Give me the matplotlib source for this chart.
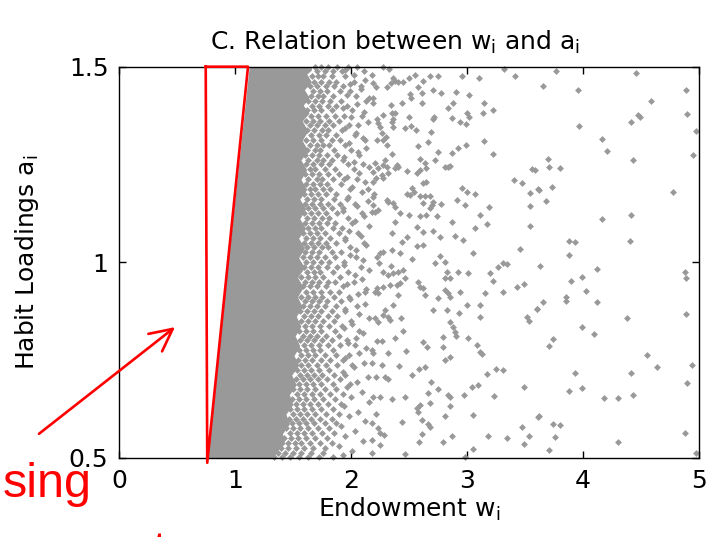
import numpy as np
import matplotlib.pyplot as plt

plt.rcParams['font.family'] = ['DejaVu Sans']
plt.rcParams['mathtext.fontset'] = 'custom'
plt.rcParams['mathtext.rm'] = 'DejaVu Sans'

gray = '#999999'
red = '#ff0000'

# outline of the solid core of the cloud (endowment, habit loading)
core_w = [1.127, 1.66, 1.66, 1.62, 1.66, 1.60, 1.64, 1.59, 1.64, 1.58, 1.63, 1.58, 1.63,
          1.57, 1.62, 1.57, 1.62, 1.56, 1.61, 1.56, 1.61, 1.55, 1.60, 1.55, 1.60, 1.54,
          1.59, 1.54, 1.58, 1.53, 1.57, 1.52, 1.56, 1.51, 1.55, 1.49, 1.53, 1.47, 1.50,
          1.44, 1.47, 1.41, 1.43, 1.36, 1.33, 0.757]
core_a = [1.508, 1.508, 1.49, 1.48, 1.46, 1.44, 1.42, 1.40, 1.38, 1.36, 1.335, 1.31, 1.285,
          1.26, 1.235, 1.21, 1.185, 1.16, 1.135, 1.11, 1.085, 1.06, 1.035, 1.01, 0.985, 0.96,
          0.935, 0.91, 0.885, 0.86, 0.835, 0.81, 0.785, 0.76, 0.735, 0.71, 0.685, 0.66, 0.635,
          0.61, 0.585, 0.56, 0.535, 0.515, 0.497, 0.497]

# fringe of the cloud: habit loading of each row and the endowments in it
fringe_a = [1.500, 1.488, 1.475, 1.462, 1.450, 1.438, 1.425, 1.412, 1.400, 1.388,
            1.375, 1.362, 1.350, 1.338, 1.325, 1.312, 1.300, 1.288, 1.275, 1.262,
            1.250, 1.238, 1.225, 1.212, 1.200, 1.188, 1.175, 1.162, 1.150, 1.138,
            1.125, 1.112, 1.100, 1.088, 1.075, 1.062, 1.050, 1.038, 1.025, 1.012,
            1.000, 0.988, 0.975, 0.962, 0.950, 0.938, 0.925, 0.912, 0.900, 0.888,
            0.875, 0.862, 0.850, 0.838, 0.825, 0.812, 0.800, 0.788, 0.775, 0.762,
            0.750, 0.738, 0.725, 0.712, 0.700, 0.688, 0.675, 0.662, 0.650, 0.638,
            0.625, 0.612, 0.600, 0.588, 0.575, 0.562, 0.550, 0.538, 0.525, 0.512, 0.502]
fringe_w = [
    [1.69, 1.74, 1.80, 1.88, 1.97, 2.05],
    [1.70, 1.77, 1.84, 1.92, 2.11],
    [1.66, 1.71, 1.76, 1.83, 1.95],
    [1.68, 1.74, 1.81, 1.87, 2.02],
    [1.64, 1.70, 1.78, 1.85, 1.93, 2.08],
    [1.67, 1.73, 1.79, 1.90, 1.99],
    [1.65, 1.71, 1.76, 1.84, 2.04],
    [1.63, 1.69, 1.75, 1.82, 1.91, 2.13],
    [1.66, 1.72, 1.80, 1.87, 1.96],
    [1.62, 1.68, 1.74, 1.83, 2.01],
    [1.65, 1.71, 1.78, 1.86, 1.94, 2.09],
    [1.61, 1.67, 1.73, 1.81, 1.89],
    [1.64, 1.70, 1.77, 1.84, 1.98, 2.06],
    [1.62, 1.68, 1.75, 1.80, 1.92],
    [1.65, 1.72, 1.78, 1.87, 2.03],
    [1.61, 1.67, 1.74, 1.83, 1.90, 2.12],
    [1.64, 1.70, 1.76, 1.81, 1.95],
    [1.62, 1.69, 1.73, 1.85, 2.00],
    [1.60, 1.66, 1.72, 1.79, 1.88, 2.07],
    [1.63, 1.70, 1.76, 1.83, 1.93],
    [1.61, 1.67, 1.74, 1.81, 1.97, 2.10],
    [1.64, 1.69, 1.77, 1.86, 2.02],
    [1.60, 1.66, 1.72, 1.80, 1.89],
    [1.63, 1.70, 1.75, 1.84, 1.94, 2.05],
    [1.61, 1.67, 1.73, 1.79, 1.91],
    [1.64, 1.69, 1.76, 1.82, 1.99, 2.14],
    [1.59, 1.65, 1.71, 1.78, 1.87],
    [1.62, 1.68, 1.74, 1.85, 1.96],
    [1.60, 1.66, 1.73, 1.80, 1.90, 2.03],
    [1.63, 1.69, 1.76, 1.83, 1.93],
    [1.59, 1.65, 1.71, 1.78, 1.88, 2.09],
    [1.62, 1.68, 1.75, 1.81, 1.97],
    [1.60, 1.66, 1.72, 1.79, 1.86, 2.01],
    [1.63, 1.69, 1.74, 1.84, 1.92],
    [1.58, 1.64, 1.70, 1.77, 1.89, 2.06],
    [1.61, 1.67, 1.73, 1.82, 1.95],
    [1.59, 1.65, 1.71, 1.78, 1.87, 2.11],
    [1.62, 1.68, 1.75, 1.80, 1.99],
    [1.60, 1.66, 1.72, 1.83, 1.91],
    [1.58, 1.64, 1.70, 1.77, 1.86, 2.04],
    [1.61, 1.67, 1.74, 1.81, 1.94],
    [1.59, 1.65, 1.71, 1.79, 1.88, 2.08],
    [1.62, 1.68, 1.73, 1.84, 1.97],
    [1.57, 1.63, 1.69, 1.76, 1.90],
    [1.60, 1.66, 1.72, 1.80, 1.86, 2.02],
    [1.58, 1.64, 1.70, 1.78, 1.93],
    [1.61, 1.67, 1.74, 1.82, 1.89, 2.12],
    [1.57, 1.63, 1.69, 1.75, 1.85, 1.98],
    [1.60, 1.66, 1.72, 1.79, 1.91],
    [1.58, 1.64, 1.70, 1.77, 1.87, 2.05],
    [1.56, 1.62, 1.68, 1.74, 1.83, 1.95],
    [1.59, 1.65, 1.71, 1.80, 1.88],
    [1.57, 1.63, 1.69, 1.76, 1.85, 2.00],
    [1.60, 1.66, 1.73, 1.81, 1.92],
    [1.55, 1.61, 1.67, 1.74, 1.86, 2.07],
    [1.58, 1.64, 1.70, 1.78, 1.89],
    [1.56, 1.62, 1.68, 1.75, 1.83, 1.96],
    [1.59, 1.65, 1.72, 1.80, 1.90, 2.03],
    [1.55, 1.61, 1.67, 1.73, 1.84],
    [1.57, 1.63, 1.69, 1.77, 1.87, 1.98],
    [1.54, 1.60, 1.66, 1.74, 1.82, 1.93],
    [1.57, 1.63, 1.70, 1.78, 1.88, 2.01],
    [1.53, 1.59, 1.65, 1.72, 1.81],
    [1.56, 1.62, 1.68, 1.75, 1.85, 1.95],
    [1.52, 1.58, 1.64, 1.71, 1.79, 1.90],
    [1.55, 1.61, 1.67, 1.74, 1.84, 1.99],
    [1.50, 1.56, 1.62, 1.69, 1.77, 1.87],
    [1.53, 1.59, 1.66, 1.73, 1.82, 1.93],
    [1.49, 1.55, 1.61, 1.68, 1.76, 1.86],
    [1.52, 1.58, 1.64, 1.71, 1.80, 1.91],
    [1.47, 1.53, 1.59, 1.66, 1.74, 1.84],
    [1.50, 1.56, 1.62, 1.69, 1.78, 1.89],
    [1.46, 1.52, 1.58, 1.65, 1.73, 1.83],
    [1.49, 1.55, 1.61, 1.68, 1.77, 1.87],
    [1.44, 1.50, 1.56, 1.63, 1.71, 1.81],
    [1.47, 1.53, 1.59, 1.66, 1.75, 1.85],
    [1.42, 1.48, 1.54, 1.61, 1.69, 1.79],
    [1.45, 1.51, 1.57, 1.64, 1.73, 1.83],
    [1.39, 1.45, 1.52, 1.59, 1.67, 1.77],
    [1.37, 1.43, 1.50, 1.57, 1.65, 1.76],
    [1.33, 1.40, 1.47, 1.55, 1.63, 1.72, 1.84],
]

# thinner outer edge of the fringe (endowment, habit loading)
outer_pts = [
    (1.95, 1.492), (2.02, 1.478), (2.12, 1.466), (1.99, 1.455), (2.08, 1.443),
    (1.96, 1.428), (2.15, 1.421), (2.05, 1.405), (1.93, 1.395), (2.11, 1.384),
    (2.00, 1.372), (2.14, 1.358), (1.95, 1.343), (2.04, 1.331), (2.10, 1.318),
    (1.98, 1.305), (2.13, 1.293), (2.06, 1.281), (1.94, 1.268), (2.02, 1.255),
    (2.15, 1.244), (2.07, 1.229), (1.96, 1.217), (2.12, 1.205), (2.01, 1.193),
    (2.09, 1.180), (1.97, 1.168), (2.14, 1.156), (2.05, 1.143), (1.93, 1.131),
    (2.11, 1.118), (2.03, 1.106), (2.15, 1.093), (1.98, 1.081), (2.08, 1.068),
    (1.95, 1.056), (2.13, 1.043), (2.04, 1.031), (1.99, 1.018), (2.10, 1.006),
    (1.94, 0.993), (2.15, 0.981), (2.03, 0.968), (2.09, 0.956), (1.96, 0.943),
    (2.13, 0.931), (2.06, 0.918), (1.99, 0.906), (2.12, 0.893), (1.95, 0.881),
    (2.07, 0.868), (2.15, 0.856), (2.01, 0.843), (1.94, 0.831), (2.10, 0.818),
    (2.04, 0.806), (1.97, 0.793), (2.13, 0.781), (2.07, 0.768), (1.95, 0.756),
    (2.11, 0.743), (2.02, 0.731), (1.93, 0.718), (2.14, 0.706), (2.05, 0.693),
    (1.96, 0.681), (2.09, 0.668), (2.00, 0.656), (2.15, 0.643), (1.94, 0.631),
    (2.06, 0.618), (1.98, 0.606), (2.12, 0.593), (1.91, 0.581), (2.03, 0.568),
    (1.95, 0.556), (2.10, 0.543), (1.89, 0.531), (2.01, 0.518), (1.93, 0.506),
]

# scattered households further out (endowment, habit loading)
sparse_pts = [
    (2.276, 1.500), (2.328, 1.493), (2.176, 1.479), (2.190, 1.458), (2.213, 1.449),
    (2.357, 1.470), (2.377, 1.464), (2.406, 1.462), (2.449, 1.462), (2.340, 1.458),
    (2.311, 1.449), (2.498, 1.470), (2.550, 1.479), (2.621, 1.464), (2.679, 1.476),
    (2.751, 1.475), (2.953, 1.476), (3.104, 1.470), (3.320, 1.493), (3.412, 1.476),
    (2.578, 1.447), (2.708, 1.440), (2.771, 1.433), (2.901, 1.436), (3.018, 1.427),
    (2.506, 1.429), (2.513, 1.419), (2.607, 1.432), (2.190, 1.419), (2.185, 1.406),
    (2.340, 1.402), (2.440, 1.408), (2.613, 1.408), (2.880, 1.408), (2.837, 1.394),
    (3.148, 1.408), (3.220, 1.389), (3.134, 1.382), (2.996, 1.381), (3.018, 1.371),
    (2.938, 1.359), (2.987, 1.353), (2.871, 1.368), (2.716, 1.372), (2.708, 1.366),
    (2.500, 1.372), (2.349, 1.381), (2.377, 1.382), (2.362, 1.366), (2.349, 1.359),
    (2.276, 1.377), (2.219, 1.366), (2.233, 1.355), (2.248, 1.347), (2.463, 1.342),
    (2.513, 1.348), (2.558, 1.338), (2.357, 1.347), (2.688, 1.334), (2.262, 1.330),
    (2.299, 1.321), (2.276, 1.313), (2.305, 1.300), (2.219, 1.313), (2.664, 1.308),
    (2.578, 1.297), (3.148, 1.310), (2.751, 1.283), (2.722, 1.262), (2.866, 1.280),
    (2.923, 1.291), (2.987, 1.300), (3.220, 1.277), (2.349, 1.277), (2.593, 1.263),
    (2.636, 1.253), (2.645, 1.240), (2.808, 1.244), (2.837, 1.243), (2.852, 1.246),
    (2.291, 1.261), (2.276, 1.248), (2.205, 1.253), (2.233, 1.240), (2.190, 1.231),
    (2.406, 1.244), (2.397, 1.248), (2.377, 1.240), (2.478, 1.234), (2.305, 1.244),
    (2.319, 1.227), (2.262, 1.223), (2.564, 1.227), (2.593, 1.236), (2.621, 1.203),
    (2.645, 1.206), (2.213, 1.215), (2.276, 1.215), (2.190, 1.206), (3.557, 1.238),
    (3.406, 1.210), (3.470, 1.203), (3.613, 1.186), (3.542, 1.176), (3.542, 1.144),
    (3.542, 1.093), (3.456, 1.033), (2.953, 1.189), (2.996, 1.180), (3.067, 1.174),
    (2.521, 1.191), (2.541, 1.180), (2.478, 1.174), (2.507, 1.172), (2.593, 1.169),
    (2.636, 1.170), (2.679, 1.170), (2.708, 1.155), (2.694, 1.146), (2.679, 1.138),
    (2.621, 1.151), (2.198, 1.174), (2.190, 1.167), (2.305, 1.159), (2.319, 1.155),
    (2.362, 1.151), (2.377, 1.142), (2.190, 1.146), (2.205, 1.129), (2.176, 1.129),
    (2.233, 1.133), (2.771, 1.149), (2.909, 1.159), (2.981, 1.146), (3.191, 1.140),
    (2.420, 1.127), (2.500, 1.121), (2.593, 1.118), (2.645, 1.121), (2.737, 1.118),
    (3.110, 1.121), (2.866, 1.102), (3.168, 1.098), (3.067, 1.087), (2.377, 1.102),
    (2.564, 1.091), (2.349, 1.074), (2.621, 1.078), (2.708, 1.081), (2.765, 1.064),
    (2.895, 1.068), (2.966, 1.057), (2.483, 1.065), (2.435, 1.052), (2.564, 1.042),
    (2.621, 1.044), (2.349, 1.031), (2.276, 1.027), (2.248, 1.023), (2.219, 1.014),
    (2.420, 1.023), (2.521, 1.008), (2.765, 1.016), (3.053, 1.024), (2.808, 1.001),
    (2.722, 0.997), (3.312, 0.999), (3.341, 0.995), (2.242, 0.997), (2.340, 0.990),
    (2.823, 0.976), (2.923, 0.976), (3.010, 0.972), (3.268, 0.988), (3.197, 0.972),
    (3.220, 0.953), (2.276, 0.976), (2.319, 0.967), (2.362, 0.972), (2.406, 0.976),
    (2.449, 0.980), (2.463, 0.959), (2.420, 0.946), (2.392, 0.942), (2.334, 0.942),
    (2.276, 0.937), (2.219, 0.933), (2.205, 0.924), (2.233, 0.920), (2.406, 0.916),
    (2.578, 0.950), (2.593, 0.937), (2.621, 0.933), (2.636, 0.916), (2.808, 0.959),
    (2.852, 0.959), (2.808, 0.929), (2.837, 0.920), (2.852, 0.912), (2.751, 0.908),
    (2.938, 0.925), (3.154, 0.920), (3.306, 0.923), (3.427, 0.937), (3.490, 0.944),
    (2.996, 0.890), (3.110, 0.890), (2.708, 0.878), (2.823, 0.878), (2.932, 0.869),
    (3.110, 0.859), (3.513, 0.861), (3.536, 0.850), (3.600, 0.880), (2.852, 0.848),
    (2.880, 0.835), (2.895, 0.822), (2.903, 0.811), (2.205, 0.857), (2.233, 0.848),
    (2.276, 0.865), (2.319, 0.861), (2.334, 0.852), (2.291, 0.878), (2.362, 0.890),
    (2.426, 0.857), (2.449, 0.825), (2.377, 0.805), (2.219, 0.799), (2.262, 0.799),
    (2.794, 0.809), (3.010, 0.805), (2.621, 0.797), (2.651, 0.784), (2.794, 0.782),
    (3.082, 0.788), (3.110, 0.771), (3.125, 0.765), (2.176, 0.775), (2.190, 0.767),
    (2.319, 0.769), (2.472, 0.774), (2.808, 0.750), (2.852, 0.757), (2.262, 0.737),
    (2.414, 0.735), (2.176, 0.741), (2.587, 0.726), (2.636, 0.731), (2.521, 0.712),
    (3.168, 0.713), (3.246, 0.727), (3.312, 0.724), (2.213, 0.707), (2.291, 0.706),
    (2.319, 0.700), (2.688, 0.694), (3.039, 0.680), (3.096, 0.686), (3.490, 0.680),
    (2.751, 0.675), (2.659, 0.665), (2.837, 0.660), (2.852, 0.654), (2.975, 0.660),
    (3.231, 0.658), (2.190, 0.656), (2.248, 0.654), (2.349, 0.649), (2.463, 0.654),
    (2.679, 0.641), (2.593, 0.635), (2.564, 0.626), (2.578, 0.618), (2.852, 0.633),
    (2.213, 0.612), (2.808, 0.607), (3.047, 0.609), (3.613, 0.605), (2.435, 0.590),
    (2.607, 0.596), (2.664, 0.586), (2.679, 0.578), (3.470, 0.579), (2.233, 0.575),
    (2.248, 0.562), (2.282, 0.558), (2.176, 0.588), (2.607, 0.561), (2.866, 0.556),
    (3.182, 0.556), (3.341, 0.550), (3.536, 0.556), (2.794, 0.541), (2.587, 0.541),
    (2.176, 0.545), (2.248, 0.532), (3.490, 0.534), (3.053, 0.521), (2.463, 0.509),
    (2.176, 0.513), (2.981, 0.502),
    (3.766, 1.490), (3.657, 1.451), (3.953, 1.441), (4.454, 1.483), (4.888, 1.441),
    (4.588, 1.412), (4.899, 1.379), (4.476, 1.377), (4.494, 1.372), (4.416, 1.359),
    (3.967, 1.349), (4.974, 1.336), (4.166, 1.316), (4.204, 1.284), (4.951, 1.273),
    (3.695, 1.264), (3.706, 1.244), (3.803, 1.241), (4.428, 1.262), (3.585, 1.236),
    (3.620, 1.185), (3.729, 1.192), (3.680, 1.156), (4.776, 1.179), (4.166, 1.110),
    (4.416, 1.120), (3.878, 1.054), (3.929, 1.051), (4.405, 1.054), (3.878, 1.018),
    (3.628, 0.991), (4.117, 0.983), (3.993, 0.963), (3.893, 0.952), (4.877, 0.976),
    (4.888, 0.959), (4.025, 0.926), (3.657, 0.897), (3.605, 0.880), (3.853, 0.912),
    (3.853, 0.902), (4.117, 0.897), (4.379, 0.858), (4.888, 0.868), (3.993, 0.835),
    (4.091, 0.816), (3.743, 0.803), (3.706, 0.786), (4.551, 0.763), (4.640, 0.733),
    (4.937, 0.736), (3.930, 0.717), (4.416, 0.717), (4.899, 0.690), (3.878, 0.671),
    (3.993, 0.678), (4.180, 0.652), (4.304, 0.652), (4.428, 0.661), (3.622, 0.607),
    (3.743, 0.586), (3.803, 0.583), (3.758, 0.553), (4.877, 0.563), (4.304, 0.539),
    (3.706, 0.520), (4.974, 0.513),
]

# highlighted wedge and the arrow pointing into it
tri_w = [0.744, 1.109, 0.757, 0.744]
tri_a = [1.5, 1.5, 0.487, 1.5]
arrow_tail = (-0.695, 0.561)
arrow_head = (0.479, 0.834)

fig = plt.figure(figsize=(7.1, 5.37), dpi=100)
ax = fig.add_axes([0.1683, 0.1477, 0.8162, 0.7281])

ax.fill(core_w, core_a, color=gray, lw=0, zorder=2)

fw = np.concatenate([np.array(row) for row in fringe_w])
fa = np.concatenate([[a] * len(row) for a, row in zip(fringe_a, fringe_w)])
ow, oa = np.array(outer_pts).T
w_sparse, a_sparse = np.array(sparse_pts).T
for xs, ys in [(fw, fa), (ow, oa), (w_sparse, a_sparse)]:
    ax.plot(xs, ys, ls='none', marker='D', ms=3.5, color=gray, mec='none',
            zorder=2, clip_on=False)

ax.plot(tri_w, tri_a, color=red, lw=1.9, zorder=4, clip_on=False)

ax.set_xlim(0, 5)
ax.set_ylim(0.5, 1.5)
ax.set_xticks([0, 1, 2, 3, 4, 5])
ax.set_yticks([0.5, 1, 1.5])
ax.set_yticklabels(['0.5', '1', '1.5'])
ax.tick_params(direction='in', length=5, width=1, top=True, right=True,
               labelsize=18, pad=8)
for s in ax.spines.values():
    s.set_linewidth(1)
    s.set_zorder(3)

ax.set_title(r'C. Relation between $\mathregular{w_i}$ and $\mathregular{a_i}$',
             fontsize=18, pad=12, x=0.475)
ax.set_xlabel(r'Endowment $\mathregular{w_i}$', fontsize=18, labelpad=2)
ax.set_ylabel(r'Habit Loadings $\mathregular{a_i}$', fontsize=18, labelpad=20)

ax.annotate('', xy=arrow_head, xytext=arrow_tail, xycoords='data',
            annotation_clip=False, zorder=5,
            arrowprops=dict(arrowstyle='->,head_length=0.8,head_width=0.4',
                            color=red, lw=1.9, mutation_scale=20,
                            shrinkA=0, shrinkB=0))

fig.text(0.004, 0.0745, 'sing', color=red, fontsize=35, family='Liberation Sans',
         ha='left', va='baseline')
fig.text(0.215, -0.052, 't', color=red, fontsize=35, family='Liberation Sans',
         ha='left', va='baseline')

fig.savefig('out.png', dpi=100)
